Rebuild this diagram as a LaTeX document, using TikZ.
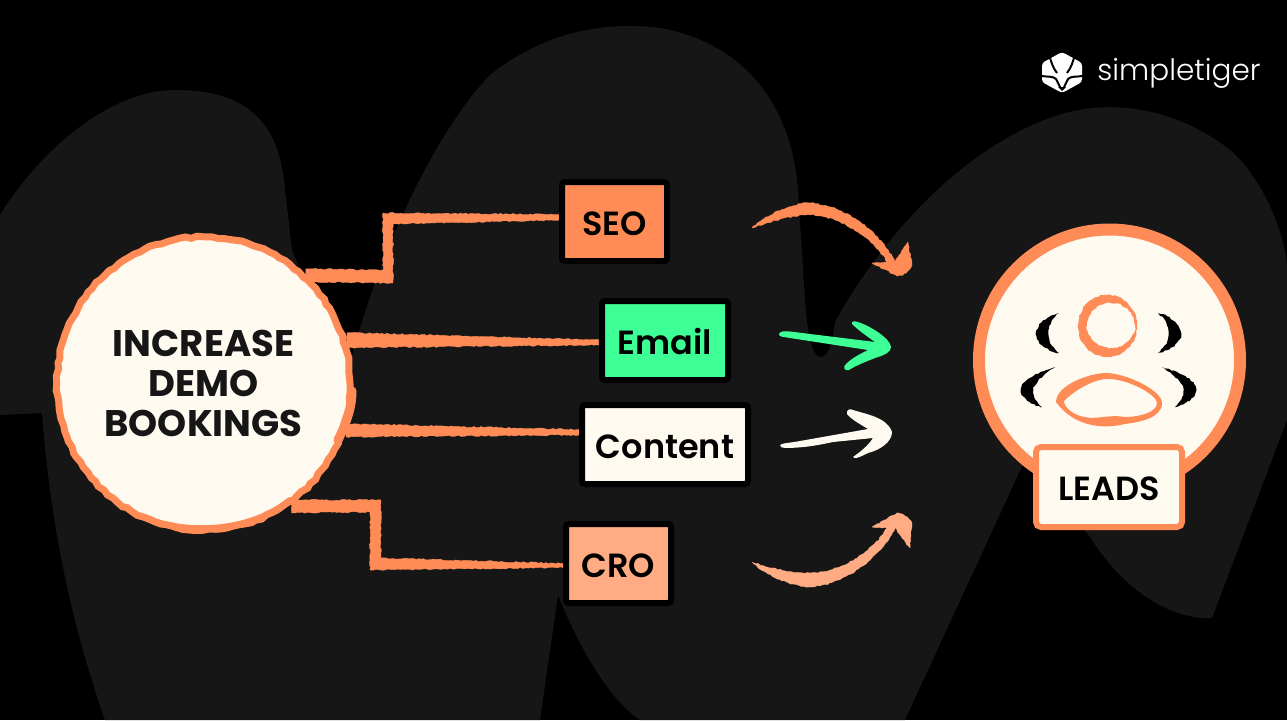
\documentclass[tikz,border=0pt]{standalone}
\usepackage{fontspec}
\setmainfont{Poppins}[UprightFont=*-Medium,BoldFont=*-SemiBold]
\newfontfamily\goalfont{Poppins}[UprightFont=*-Bold]
\newfontfamily\logofont{Poppins}[UprightFont=*-Light]
\usetikzlibrary{calc, backgrounds, decorations.pathmorphing}
\definecolor{tigerorange}{HTML}{FF8C56}
\definecolor{tigerpeach}{HTML}{FFAB83}
\definecolor{tigergreen}{HTML}{3DFF95}
\definecolor{tigercream}{HTML}{FFFAF0}
\definecolor{blobgray}{HTML}{161616}
\pgfdeclarelayer{backdrop}
\pgfsetlayers{backdrop,background,main}

\begin{document}
\begin{tikzpicture}[
    x=1pt, y=-1pt,
    rough/.style={decorate, decoration={random steps, segment length=2.5pt, amplitude=0.7pt}},
    block/.style={draw=black, line width=6pt, rounded corners=3pt, minimum height=79pt, inner sep=0pt,
                  align=center, text=black, text height=27pt, text depth=0pt,
                  font=\fontsize{33.5}{36}\selectfont\bfseries},
    wire/.style={fill=tigerorange, draw=tigerorange, line width=0.3pt, rough},
    sweep/.style={fill=#1, draw=#1, line width=0.3pt, rough},
    goal/.style={circle, draw=tigerorange, fill=tigercream, line width=7pt, minimum size=293pt, inner sep=0pt,
                 align=center, text=blobgray, font=\fontsize{37}{40}\selectfont\goalfont,
                 decorate, decoration={random steps, segment length=6pt, amplitude=1pt}},
    ring/.style={circle, draw=tigerorange, fill=tigercream, line width=12pt, minimum size=261pt, inner sep=0pt}
]
    \pgfmathsetseed{12}
    \useasboundingbox (0,0) rectangle (1287,720);

    % Objective
    \node[goal] (goal) at (203.5,383.5) {INCREASE\\DEMO\\BOOKINGS};
    \draw[tigerorange, line width=9pt, line cap=round] (352,391) .. controls (352,405) and (348,420) .. (338,440);
    \draw[tigerorange, line width=6pt, line cap=round] (125,507) .. controls (160,533) and (240,540) .. (290,500);

    % Channels
    \node[block, fill=tigerorange, minimum width=105pt] (seo) at (614.5,221.5) {SEO};
    \node[block, fill=tigergreen, minimum width=126pt] (email) at (665,340.5) {Email};
    \node[block, fill=tigercream, minimum width=166pt] (content) at (665,444.5) {Content};
    \node[block, fill=tigerpeach, minimum width=105pt] (cro) at (618.5,563.5) {CRO};

    % Links
    \begin{scope}[on background layer]
        \draw[wire] ($(goal.47)+(0,-5)$) -- (383,270) -- (383,213) -- ($(seo.west)+(0,-7)$)
            -- ($(seo.west)+(0,-1.5)$) -- (393,224) -- (393,283) -- ($(goal.47)+(0,8)$) -- cycle;
        \draw[wire] ($(goal.17)+(0,-7)$) -- ($(email.west)+(0,-0.5)$) -- ($(email.west)+(0,4.5)$)
            -- ($(goal.17)+(0,8)$) -- cycle;
        \draw[wire] ($(goal.-18)+(0,-6)$) -- ($(content.west)+(0,-15)$) -- ($(content.west)+(0,-9.5)$)
            -- ($(goal.-18)+(0,7)$) -- cycle;
        \draw[wire] ($(goal.-54)+(0,-5)$) -- (381,500) -- (381,558) -- ($(cro.west)+(0,0)$)
            -- ($(cro.west)+(0,4)$) -- (370,570) -- (370,512) -- ($(goal.-54)+(0,8)$) -- cycle;
    \end{scope}

    % Outcome
    \node[ring] (leads) at (1109.5,360) {};
    \node[block, draw=tigerorange, fill=tigercream, rounded corners=5pt, minimum width=146pt, minimum height=80pt]
        (leadslabel) at (1109,487) {LEADS};

    % Person
    \fill[tigerorange, even odd rule, rough] (1107.5,326) ellipse [x radius=29.5, y radius=31]
        (1111,325.5) ellipse [x radius=24, y radius=22.5];
    \fill[tigerorange, even odd rule] (1056,402) .. controls (1056,385) and (1090,373) .. (1106,373)
        .. controls (1125,373) and (1162,390) .. (1162,403)
        .. controls (1162,418) and (1140,422) .. (1125,424)
        .. controls (1105,429) and (1075,428) .. (1056,402) -- cycle
        (1064,401) .. controls (1075,390) and (1095,378) .. (1110,379)
        .. controls (1130,380) and (1157,395) .. (1157,403)
        .. controls (1157,412) and (1140,417) .. (1125,417)
        .. controls (1110,414) and (1095,420) .. (1085,417)
        .. controls (1075,416) and (1064,408) .. (1064,401) -- cycle;
    \foreach \side in {1,-1} {
        \begin{scope}[shift={(1108.5,0)}, xscale=\side]
            \fill[black, rough] (-49.5,313) .. controls (-63,316) and (-72.5,326) .. (-72.5,334)
                .. controls (-72.5,343) and (-61,351) .. (-49.5,353)
                .. controls (-55,348) and (-60,342) .. (-60,333)
                .. controls (-60,325) and (-55,318) .. (-49.5,313) -- cycle;
            \fill[black, rough] (-53.5,367) .. controls (-73,373) and (-87.5,380) .. (-87.5,390)
                .. controls (-87.5,398) and (-76,405) .. (-66.5,407)
                .. controls (-72,402) and (-76,396) .. (-75,390)
                .. controls (-74,382) and (-62,372) .. (-53.5,367) -- cycle;
        \end{scope}
    }

    % Swept arrows
    \coordinate (seotail) at (752,228);
    \coordinate (seotip) at (895,262);
    \draw[sweep=tigerorange] (seotail) .. controls (765,216) and (790,203) .. (810,203)
        .. controls (845,205) and (880,232) .. (seotip) -- (908,242) -- (912,265)
        .. controls (908,273) and (903,276) .. (897,276) -- (872,263) -- (887,262)
        .. controls (875,240) and (840,215) .. (810,215) .. controls (790,215) and (770,222) .. (seotail) -- cycle;
    \coordinate (crotail) at (752,562);
    \coordinate (crotip) at (895,528);
    \draw[sweep=tigerpeach] (crotail) .. controls (765,574) and (790,587) .. (810,587)
        .. controls (845,585) and (880,558) .. (crotip) -- (910,548) -- (912,523)
        .. controls (908,517) and (903,513) .. (897,513) -- (872,527) -- (887,528)
        .. controls (875,550) and (840,573) .. (810,573) .. controls (790,573) and (770,568) .. (crotail) -- cycle;
    \coordinate (emailtail) at (779,334);
    \coordinate (emailtip) at (891,347);
    \fill[tigergreen] (emailtail) .. controls (780,331) and (785,331) .. (790,331.5) -- (875,342)
        .. controls (868,337) and (858,330) .. (852,324) .. controls (851,321) and (855,321) .. (858,322)
        .. controls (870,326) and (890,338) .. (emailtip) .. controls (891,352) and (885,355) .. (875,358)
        .. controls (865,362) and (855,366) .. (849,370) .. controls (845,371) and (842,368) .. (846,364)
        .. controls (852,358) and (860,354) .. (868,350) -- (790,338) .. controls (785,337) and (778,337) .. (emailtail) -- cycle;
    \coordinate (contenttail) at (780,445);
    \coordinate (contenttip) at (892,432);
    \fill[tigercream] (contenttail) .. controls (782,443) and (790,443) .. (800,441) -- (868,429)
        .. controls (860,424) and (852,420) .. (847,414) .. controls (846,410) and (850,408) .. (853,410)
        .. controls (865,414) and (887,417) .. (contenttip) .. controls (892,442) and (880,450) .. (868,453)
        .. controls (862,456) and (858,458) .. (855,458) -- (853,457)
        .. controls (860,452) and (868,446) .. (873,438) -- (833,442) .. controls (815,446) and (800,448) .. (785,448)
        .. controls (782,448) and (780,447) .. (contenttail) -- cycle;

    % Logo
    \fill[white, rounded corners=3pt] (1062,52) -- (1082,63) -- (1082,82) -- (1062,93) -- (1042,82) -- (1042,63) -- cycle;
    \draw[black, line width=2pt] (1049,54) .. controls (1051,62) and (1053,68) .. (1057,73);
    \draw[black, line width=2pt] (1075,54) .. controls (1073,62) and (1071,68) .. (1067,73);
    \draw[black, line width=2pt] (1041,76) .. controls (1048,77) and (1053,76) .. (1056,79) -- (1060,87);
    \draw[black, line width=2pt] (1083,76) .. controls (1076,77) and (1071,76) .. (1068,79) -- (1064,87);
    \fill[black] (1058,87) -- (1066,87) -- (1062,91) -- cycle;
    \node[text=white, inner sep=0pt, font=\fontsize{29.5}{32}\selectfont\logofont] (brand) at (1179,73) {simpletiger};

    % Backdrop
    \begin{pgfonlayer}{backdrop}
        \fill[black] (0,0) rectangle (1287,720);
        \fill[blobgray] (0,215) .. controls (40,150) and (110,90) .. (175,90)
            .. controls (250,90) and (280,125) .. (285,190) -- (292,250) -- (346,380)
            .. controls (373,265) and (432,135) .. (490,75)
            .. controls (540,35) and (600,20) .. (660,28)
            .. controls (730,40) and (790,90) .. (798,190) -- (805,300)
            .. controls (808,345) and (815,357) .. (820,357)
            .. controls (828,357) and (832,345) .. (835,322)
            .. controls (880,240) and (960,150) .. (1050,118)
            .. controls (1110,95) and (1180,110) .. (1230,150)
            .. controls (1265,180) and (1287,240) .. (1287,270) -- (1287,420)
            -- (1212,618) .. controls (1180,620) and (1130,600) .. (1090,537) -- (1025,460)
            -- (905,720) -- (640,720) .. controls (610,700) and (580,650) .. (558,595)
            -- (540,720) -- (105,720) .. controls (70,620) and (50,520) .. (42,413) -- (0,415) -- cycle;
    \end{pgfonlayer}
\end{tikzpicture}
\end{document}
